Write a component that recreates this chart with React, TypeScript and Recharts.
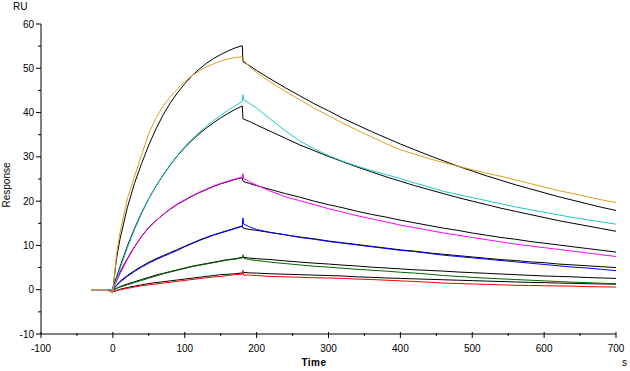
import { LineChart, Line, XAxis, YAxis } from "recharts";

// time grid (s): baseline, association (0-180), dissociation (180-700)
const baseT = [-30, -20, -10];
const assocT = [0, 5, 10, 20, 30, 40, 50, 60, 70, 80, 90, 100, 110, 120, 130, 140, 150, 160, 170, 180];
const dissT = [
  181, 182, 190, 200, 220, 240, 260, 280, 300, 320, 340, 360, 380, 400, 420, 440, 460, 480, 500, 520,
  540, 560, 580, 600, 620, 640, 660, 680, 700,
];
const baseline = [0, 0, 0];

// measured sensorgrams (RU)
const orangeAssoc = [-0.8, 8, 13, 20.5, 25.5, 30.5, 35.3, 38.8, 41.5, 43.6, 45.4, 47, 48.3, 49.4, 50.3, 51, 51.6, 52.1, 52.4, 52.6];
const orangeDiss = [52.4, 51.8, 50.4, 49, 46.8, 44.8, 42.9, 41, 39.3, 37.6, 36, 34.5, 33, 31.6, 30.6, 29.6, 28.7, 27.9, 27.1, 26.3, 25.6, 24.8, 24, 23.2, 22.4, 21.7, 21, 20.3, 19.7];
const cyanAssoc = [0, 2.2, 4.7, 9.4, 13.5, 17.2, 20.5, 23.4, 26, 28.3, 30.4, 32.3, 34, 35.5, 36.9, 38.2, 39.4, 40.5, 41.5, 42.5];
const cyanDiss = [44, 42.9, 42.1, 41, 38.4, 35.9, 33.6, 31.8, 30.3, 29, 27.9, 26.9, 26, 25.1, 24.1, 23.2, 22.2, 21.5, 20.8, 20.1, 19.4, 18.7, 18.1, 17.5, 16.9, 16.3, 15.8, 15.3, 14.8];
const magentaAssoc = [0, 1.8, 3.6, 6.8, 9.6, 12, 14, 15.6, 17, 18.3, 19.4, 20.3, 21.2, 22, 22.7, 23.4, 24, 24.5, 25, 25.4];
const magentaDiss = [26.2, 25.1, 24.4, 23.6, 22.2, 21, 20.1, 19.2, 18.3, 17.5, 16.7, 16, 15.3, 14.6, 14, 13.4, 12.8, 12.3, 11.8, 11.3, 10.8, 10.3, 9.9, 9.5, 9.1, 8.7, 8.3, 7.9, 7.5];
const blueAssoc = [0, 0.9, 1.7, 3, 4.1, 5.1, 6, 6.8, 7.5, 8.2, 8.9, 9.7, 10.4, 11.1, 11.7, 12.3, 12.8, 13.3, 13.8, 14.3];
const blueDiss = [16.2, 14.8, 14.2, 13.6, 12.9, 12.4, 11.8, 11.4, 10.9, 10.5, 10.1, 9.7, 9.3, 8.9, 8.6, 8.2, 7.8, 7.5, 7.2, 6.9, 6.6, 6.3, 6, 5.7, 5.4, 5.1, 4.9, 4.6, 4.3];
const greenAssoc = [0, 0.3, 0.6, 1.1, 1.6, 2.1, 2.6, 3.1, 3.6, 4, 4.4, 4.8, 5.2, 5.5, 5.8, 6.1, 6.4, 6.7, 6.9, 7.2];
const greenDiss = [7.9, 7.1, 6.8, 6.6, 6.2, 5.9, 5.6, 5.3, 5.1, 4.85, 4.6, 4.4, 4.2, 3.95, 3.75, 3.5, 3.2, 3, 2.8, 2.6, 2.45, 2.3, 2.15, 2, 1.85, 1.7, 1.6, 1.45, 1.35];
const redAssoc = [-0.4, -0.2, 0, 0.3, 0.6, 0.9, 1.1, 1.3, 1.5, 1.7, 1.9, 2.1, 2.3, 2.5, 2.7, 2.9, 3, 3.2, 3.4, 3.5];
const redDiss = [4.4, 3.3, 3.3, 3.2, 3, 2.9, 2.8, 2.7, 2.65, 2.55, 2.4, 2.3, 2.15, 2, 1.85, 1.7, 1.5, 1.4, 1.3, 1.2, 1.1, 1, 0.95, 0.9, 0.85, 0.8, 0.7, 0.65, 0.6];

// global fits (black)
const fit1Assoc = [0, 7, 11.5, 18.5, 24, 28.5, 32.7, 36.3, 39.5, 42.2, 44.5, 46.5, 48.3, 49.8, 51.1, 52.2, 53.1, 53.9, 54.6, 55.1];
const fit1Diss = [51.5, 51.4, 50.6, 49.5, 47.5, 45.6, 43.8, 42, 40.4, 38.7, 37.2, 35.7, 34.3, 32.9, 31.6, 30.3, 29.1, 27.9, 26.8, 25.7, 24.7, 23.7, 22.8, 21.9, 21, 20.2, 19.4, 18.6, 17.9];
const fit2Assoc = [0.5, 2.8, 5.2, 9.8, 13.8, 17.4, 20.6, 23.4, 25.9, 28.2, 30.3, 32.1, 33.7, 35.2, 36.5, 37.7, 38.8, 39.8, 40.7, 41.5];
const fit2Diss = [38.6, 38.5, 38, 37.2, 35.7, 34.2, 32.7, 31.4, 30.1, 28.9, 27.7, 26.6, 25.5, 24.5, 23.5, 22.6, 21.7, 20.8, 20, 19.2, 18.4, 17.7, 17, 16.3, 15.6, 15, 14.4, 13.8, 13.2];
const fit3Assoc = [0, 2.3, 4, 7, 9.7, 12.1, 14.1, 15.6, 17, 18.2, 19.3, 20.2, 21.1, 21.9, 22.6, 23.3, 23.9, 24.4, 24.9, 25.3];
const fit3Diss = [24.5, 24.4, 24, 23.5, 22.6, 21.7, 20.9, 20, 19.2, 18.5, 17.7, 17, 16.4, 15.7, 15.1, 14.5, 13.9, 13.4, 12.8, 12.3, 11.8, 11.4, 10.9, 10.5, 10.1, 9.7, 9.3, 8.9, 8.5];
const fit4Assoc = [0, 1, 1.9, 3.2, 4.3, 5.3, 6.2, 7, 7.7, 8.4, 9.1, 9.8, 10.5, 11.2, 11.8, 12.4, 12.9, 13.4, 13.9, 14.4];
const fit4Diss = [13.9, 13.9, 13.6, 13.4, 12.9, 12.4, 11.9, 11.5, 11, 10.6, 10.2, 9.8, 9.4, 9, 8.7, 8.3, 8, 7.7, 7.4, 7.1, 6.8, 6.6, 6.3, 6.1, 5.8, 5.6, 5.4, 5.2, 5];
const fit5Assoc = [-0.2, 0.3, 0.7, 1.3, 1.8, 2.3, 2.8, 3.3, 3.7, 4.1, 4.5, 4.9, 5.3, 5.6, 5.9, 6.2, 6.5, 6.8, 7, 7.3];
const fit5Diss = [7.3, 7.3, 7.15, 7, 6.8, 6.5, 6.25, 6, 5.8, 5.55, 5.35, 5.1, 4.9, 4.7, 4.5, 4.35, 4.2, 4, 3.85, 3.7, 3.55, 3.4, 3.25, 3.1, 3, 2.9, 2.75, 2.65, 2.55];
const fit6Assoc = [-0.5, -0.2, 0.1, 0.5, 0.8, 1.1, 1.4, 1.6, 1.8, 2, 2.2, 2.4, 2.6, 2.8, 3, 3.2, 3.4, 3.5, 3.6, 3.8];
const fit6Diss = [3.9, 3.9, 3.8, 3.75, 3.6, 3.5, 3.4, 3.3, 3.2, 3.1, 2.9, 2.8, 2.65, 2.55, 2.45, 2.35, 2.25, 2.15, 2.05, 1.95, 1.85, 1.75, 1.65, 1.6, 1.5, 1.45, 1.35, 1.3, 1.25];

const xTicks = [-100, -50, 0, 50, 100, 150, 200, 250, 300, 350, 400, 450, 500, 550, 600, 650, 700];
const yTicks = [-10, -5, 0, 5, 10, 15, 20, 25, 30, 35, 40, 45, 50, 55, 60];

const toPoints = (ts: number[], vs: number[]) => ts.map((t, i) => ({ t, v: vs[i] }));
const measured = (a: number[], d: number[]) =>
  toPoints([...baseT, ...assocT, ...dissT], [...baseline, ...a, ...d]);
const fitted = (a: number[], d: number[]) => toPoints([...assocT, ...dissT], [...a, ...d]);

// fits drawn first, measured curves on top
const curves = [
  { name: "fit6", color: "#000000", data: fitted(fit6Assoc, fit6Diss) },
  { name: "fit5", color: "#000000", data: fitted(fit5Assoc, fit5Diss) },
  { name: "fit4", color: "#000000", data: fitted(fit4Assoc, fit4Diss) },
  { name: "fit3", color: "#000000", data: fitted(fit3Assoc, fit3Diss) },
  { name: "fit2", color: "#000000", data: fitted(fit2Assoc, fit2Diss) },
  { name: "fit1", color: "#000000", data: fitted(fit1Assoc, fit1Diss) },
  { name: "red", color: "#ff0000", data: measured(redAssoc, redDiss) },
  { name: "green", color: "#006400", data: measured(greenAssoc, greenDiss) },
  { name: "blue", color: "#0000ff", data: measured(blueAssoc, blueDiss) },
  { name: "magenta", color: "#ff00ff", data: measured(magentaAssoc, magentaDiss) },
  { name: "cyan", color: "#1ec8c8", data: measured(cyanAssoc, cyanDiss) },
  { name: "orange", color: "#dca01e", data: measured(orangeAssoc, orangeDiss) },
];

const TICK = 5;
const GAP_X = 6;
const GAP_Y = 2;
const font = { fontFamily: "'Liberation Sans', Arial, sans-serif", fontSize: 10, fill: "#000" };

function XTick(props: any) {
  const { x, y, payload } = props;
  const major = payload.value % 100 === 0;
  const axisY = y - TICK - GAP_X;
  return (
    <g>
      <line x1={x} x2={x} y1={axisY - (major ? 2 : 1)} y2={axisY + (major ? 4 : 2)} stroke="#000" />
      {major && (
        <text x={x} y={y} dy="0.71em" textAnchor="middle" {...font}>
          {payload.value}
        </text>
      )}
    </g>
  );
}

function YTick(props: any) {
  const { x, y, payload } = props;
  const major = payload.value % 10 === 0;
  const axisX = x + TICK + GAP_Y;
  return (
    <g>
      <line x1={axisX - (major ? 5 : 3)} x2={axisX} y1={y} y2={y} stroke="#000" />
      {major && (
        <text x={x} y={y} dy="0.355em" textAnchor="end" {...font}>
          {payload.value}
        </text>
      )}
    </g>
  );
}

const label: React.CSSProperties = {
  position: "absolute",
  fontFamily: "'Liberation Sans', Arial, sans-serif",
  fontSize: 10,
  color: "#000",
  lineHeight: "10px",
  whiteSpace: "nowrap",
};

export default function App() {
  return (
    <div style={{ position: "absolute", left: 0, top: 0, width: 630, height: 371, background: "#fff" }}>
      <LineChart width={630} height={371} margin={{ top: 24, right: 14, bottom: 0, left: 0 }}>
        <XAxis
          type="number"
          dataKey="t"
          domain={[-100, 700]}
          ticks={xTicks}
          interval={0}
          height={37}
          tickSize={TICK}
          tickMargin={GAP_X}
          tickLine={false}
          axisLine={{ stroke: "#000" }}
          tick={<XTick />}
          allowDataOverflow
        />
        <YAxis
          type="number"
          domain={[-10, 60]}
          ticks={yTicks}
          interval={0}
          width={41}
          tickSize={TICK}
          tickMargin={GAP_Y}
          tickLine={false}
          axisLine={{ stroke: "#000" }}
          tick={<YTick />}
          allowDataOverflow
        />
        {curves.map((c) => (
          <Line
            key={c.name}
            data={c.data}
            dataKey="v"
            type="linear"
            stroke={c.color}
            strokeWidth={1}
            dot={false}
            activeDot={false}
            isAnimationActive={false}
          />
        ))}
      </LineChart>
      <div style={{ ...label, left: 13, top: 2 }}>RU</div>
      <div
        style={{
          ...label,
          left: 7,
          top: 185,
          transform: "translate(-50%, -50%) rotate(-90deg)",
        }}
      >
        Response
      </div>
      <div style={{ ...label, left: 314, top: 358, transform: "translateX(-50%)", fontWeight: "bold", letterSpacing: 0.5 }}>
        Time
      </div>
      <div style={{ ...label, left: 622, top: 358 }}>s</div>
    </div>
  );
}
